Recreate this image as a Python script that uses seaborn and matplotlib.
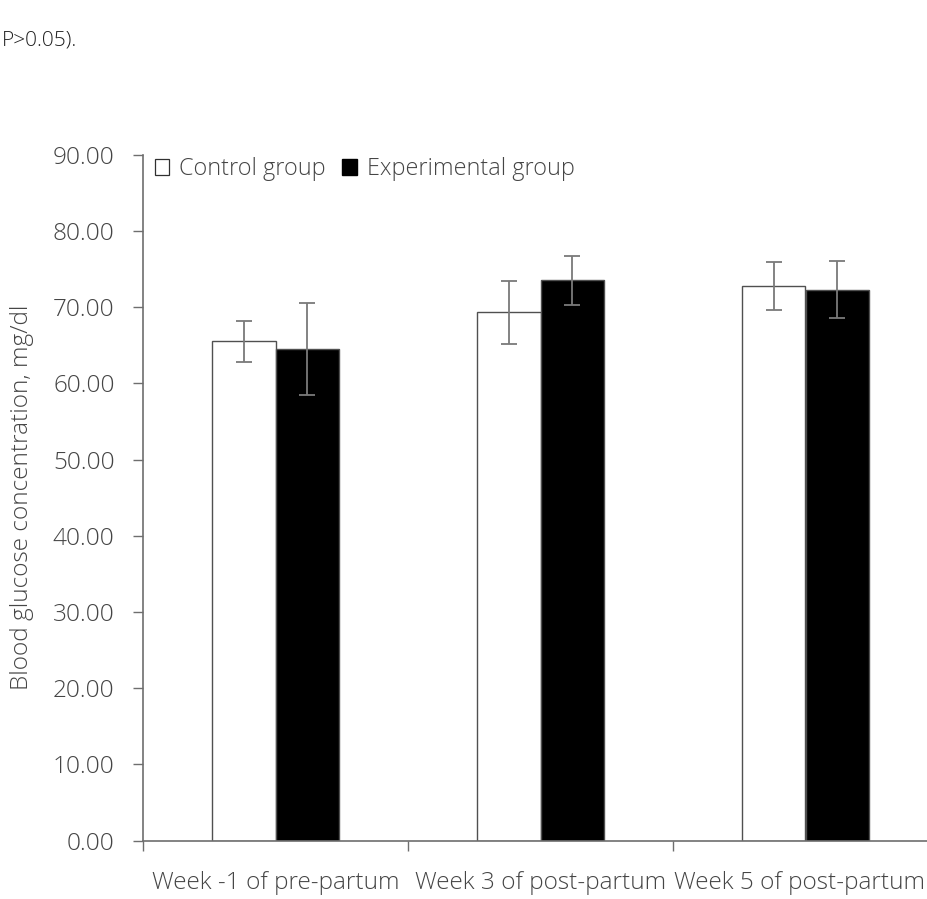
import matplotlib
matplotlib.use("Agg")
import matplotlib.pyplot as plt
from matplotlib.patches import Patch
from matplotlib.transforms import ScaledTranslation
import numpy as np
import pandas as pd
import seaborn as sns

# Blood glucose (mg/dl), mean and SE per sampling week
weeks = ["Week -1 of pre-partum", "Week 3 of post-partum", "Week 5 of post-partum"]
groups = ["Control group", "Experimental group"]
control_mean = [65.5, 69.3, 72.8]
control_se = [2.7, 4.15, 3.15]
experimental_mean = [64.5, 73.5, 72.3]
experimental_se = [6.05, 3.2, 3.7]
y_ticks = [0, 10, 20, 30, 40, 50, 60, 70, 80, 90]

df = pd.DataFrame({
    "week": weeks * 2,
    "group": [groups[0]] * 3 + [groups[1]] * 3,
    "glucose": control_mean + experimental_mean,
    "se": control_se + experimental_se,
})

sns.set_theme(style="white")
plt.rcParams["font.family"] = ["Open Sans", "DejaVu Sans"]
plt.rcParams["font.weight"] = "light"
plt.rcParams["axes.labelweight"] = "light"
text_col = "#454545"
line_col = "#6e6e6e"
fs = 17.6

W, H = 927, 899
fig = plt.figure(figsize=(W / 100, H / 100), dpi=100)
ax_left, ax_right = 143 / W, 938 / W
ax_bottom, ax_top = 1 - 840.7 / H, 1 - 154.7 / H
ax = fig.add_axes([ax_left, ax_bottom, ax_right - ax_left, ax_top - ax_bottom])

sns.barplot(data=df, x="week", y="glucose", hue="group", order=weeks,
            hue_order=groups, palette=["white", "black"], width=0.48,
            errorbar=None, edgecolor="#505050", linewidth=1.0, ax=ax,
            legend=False)

# error bars centred on each drawn bar
for container, grp in zip(ax.containers, groups):
    sub = df[df["group"] == grp].set_index("week").loc[weeks]
    xs = [p.get_x() + p.get_width() / 2 for p in container.patches]
    ax.errorbar(xs, sub["glucose"].values, yerr=sub["se"].values, fmt="none",
                ecolor="#7a7a7a", elinewidth=1.3, capsize=5.5, capthick=1.3)

ax.set_xlim(-0.5, 2.5)
ax.set_ylim(0, 90)
ax.set_yticks(y_ticks)
ax.set_yticklabels([f"{v:.2f}" for v in y_ticks])

# category boundaries carry the tick marks, labels sit at the centres
ax.set_xticks([-0.5, 0.5, 1.5, 2.5])
ax.set_xticklabels([])
ax.set_xticks(range(len(weeks)), minor=True)
ax.set_xticklabels(weeks, minor=True)
ax.tick_params(axis="x", which="major", direction="out", length=7.5,
               width=1, color=line_col, bottom=True)
ax.tick_params(axis="x", which="minor", length=0, pad=22, labelsize=fs,
               labelcolor=text_col)
ax.tick_params(axis="y", direction="out", length=7.5, width=1,
               color=line_col, left=True, pad=13, labelsize=fs,
               labelcolor=text_col)

# pull the last category label slightly inward so it stays on the canvas
minor_labels = ax.get_xticklabels(minor=True)
minor_labels[-1].set_horizontalalignment("right")
minor_labels[-1].set_transform(minor_labels[-1].get_transform()
                               + ScaledTranslation(1.20, 0, fig.dpi_scale_trans))

for side in ["top", "right"]:
    ax.spines[side].set_visible(False)
for side in ["left", "bottom"]:
    ax.spines[side].set_color(line_col)
    ax.spines[side].set_linewidth(1.2)

ax.set_xlabel("")
ax.set_ylabel("Blood glucose concentration, mg/dl", fontsize=fs,
              color=text_col, fontweight="light")
ax.yaxis.set_label_coords(-0.137, 0.5)

handles = [Patch(facecolor="white", edgecolor="#303030", linewidth=0.9),
           Patch(facecolor="black", edgecolor="black")]
ax.legend(handles, groups, loc="upper left", bbox_to_anchor=(-0.006, 1.02),
          ncol=2, frameon=False, fontsize=16.8, labelcolor=text_col,
          handlelength=0.64, handleheight=0.64, handletextpad=0.42,
          columnspacing=0.7, borderaxespad=0.3)

fig.text(0.002, 1 - 41 / H, "P>0.05).", fontsize=15, color="#202020",
         va="center", ha="left")

fig.savefig("out.png", dpi=100, facecolor="white")
